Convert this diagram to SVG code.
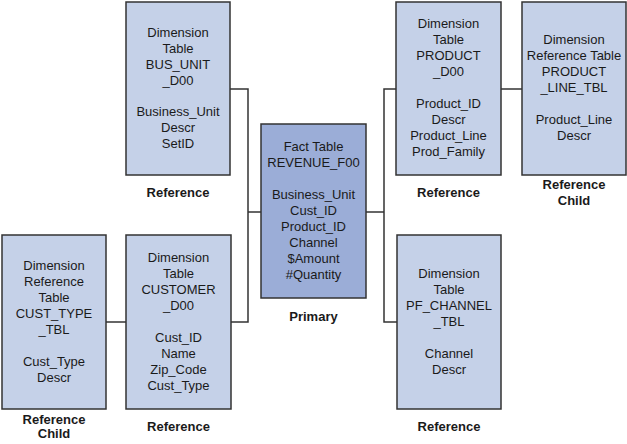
<svg xmlns="http://www.w3.org/2000/svg" width="627" height="444" viewBox="0 0 627 444">
<style>
.dim{fill:#c5d1e8;stroke:#333;stroke-width:1.5}
.fact{fill:#9badd7;stroke:#333;stroke-width:1.5}
.t{font-family:"Liberation Sans",Arial,sans-serif;font-size:13px;fill:#1a1a1a;text-anchor:middle}
.lb{font-family:"Liberation Sans",Arial,sans-serif;font-size:13px;font-weight:bold;fill:#1a1a1a;text-anchor:middle}
.c{fill:none;stroke:#333;stroke-width:1.5}
</style>
<rect width="627" height="444" fill="#fff"/>
<g id="connectors">
<polyline class="c" points="230,89 248,89 248,322 231,322"/>
<line class="c" x1="248" y1="212" x2="261" y2="212"/>
<line class="c" x1="106" y1="322" x2="126" y2="322"/>
<polyline class="c" points="396,89 384,89 384,322 397,322"/>
<line class="c" x1="366" y1="212" x2="384" y2="212"/>
<line class="c" x1="501" y1="89" x2="522" y2="89"/>
</g>
<g id="bus_unit">
<rect class="dim" x="126" y="2" width="104" height="173"/>
<text class="t"><tspan x="178" y="37">Dimension</tspan><tspan x="178" y="53">Table</tspan><tspan x="178" y="69">BUS_UNIT</tspan><tspan x="178" y="85">_D00</tspan><tspan x="178" y="116">Business_Unit</tspan><tspan x="178" y="132">Descr</tspan><tspan x="178" y="148">SetID</tspan></text>
<text class="lb" x="178" y="197">Reference</text>
</g>
<g id="revenue_f00">
<rect class="fact" x="261" y="124" width="105" height="174"/>
<text class="t"><tspan x="313.5" y="151">Fact Table</tspan><tspan x="313.5" y="167">REVENUE_F00</tspan><tspan x="313.5" y="199">Business_Unit</tspan><tspan x="313.5" y="215">Cust_ID</tspan><tspan x="313.5" y="231">Product_ID</tspan><tspan x="313.5" y="247">Channel</tspan><tspan x="313.5" y="263">$Amount</tspan><tspan x="313.5" y="279">#Quantity</tspan></text>
<text class="lb" x="313.5" y="321">Primary</text>
</g>
<g id="cust_type_tbl">
<rect class="dim" x="2" y="235" width="104" height="174"/>
<text class="t"><tspan x="54" y="270">Dimension</tspan><tspan x="54" y="286">Reference</tspan><tspan x="54" y="302">Table</tspan><tspan x="54" y="318">CUST_TYPE</tspan><tspan x="54" y="334">_TBL</tspan><tspan x="54" y="366">Cust_Type</tspan><tspan x="54" y="382">Descr</tspan></text>
<text class="lb"><tspan x="54" y="424">Reference</tspan><tspan x="54" y="438">Child</tspan></text>
</g>
<g id="customer_d00">
<rect class="dim" x="126" y="235" width="105" height="174"/>
<text class="t"><tspan x="178.5" y="262">Dimension</tspan><tspan x="178.5" y="278">Table</tspan><tspan x="178.5" y="294">CUSTOMER</tspan><tspan x="178.5" y="310">_D00</tspan><tspan x="178.5" y="342">Cust_ID</tspan><tspan x="178.5" y="358">Name</tspan><tspan x="178.5" y="374">Zip_Code</tspan><tspan x="178.5" y="390">Cust_Type</tspan></text>
<text class="lb" x="178.5" y="431">Reference</text>
</g>
<g id="product_d00">
<rect class="dim" x="396" y="2" width="105" height="173"/>
<text class="t"><tspan x="448.5" y="28">Dimension</tspan><tspan x="448.5" y="44">Table</tspan><tspan x="448.5" y="60">PRODUCT</tspan><tspan x="448.5" y="76">_D00</tspan><tspan x="448.5" y="108">Product_ID</tspan><tspan x="448.5" y="124">Descr</tspan><tspan x="448.5" y="140">Product_Line</tspan><tspan x="448.5" y="156">Prod_Family</tspan></text>
<text class="lb" x="448.5" y="197">Reference</text>
</g>
<g id="product_line_tbl">
<rect class="dim" x="522" y="2" width="104" height="173"/>
<text class="t"><tspan x="574" y="44">Dimension</tspan><tspan x="574" y="60">Reference Table</tspan><tspan x="574" y="76">PRODUCT</tspan><tspan x="574" y="92">_LINE_TBL</tspan><tspan x="574" y="124">Product_Line</tspan><tspan x="574" y="140">Descr</tspan></text>
<text class="lb"><tspan x="574" y="189">Reference</tspan><tspan x="574" y="205">Child</tspan></text>
</g>
<g id="pf_channel_tbl">
<rect class="dim" x="397" y="235" width="104" height="174"/>
<text class="t"><tspan x="449" y="278">Dimension</tspan><tspan x="449" y="294">Table</tspan><tspan x="449" y="310">PF_CHANNEL</tspan><tspan x="449" y="326">_TBL</tspan><tspan x="449" y="358">Channel</tspan><tspan x="449" y="374">Descr</tspan></text>
<text class="lb" x="449" y="431">Reference</text>
</g>
</svg>
